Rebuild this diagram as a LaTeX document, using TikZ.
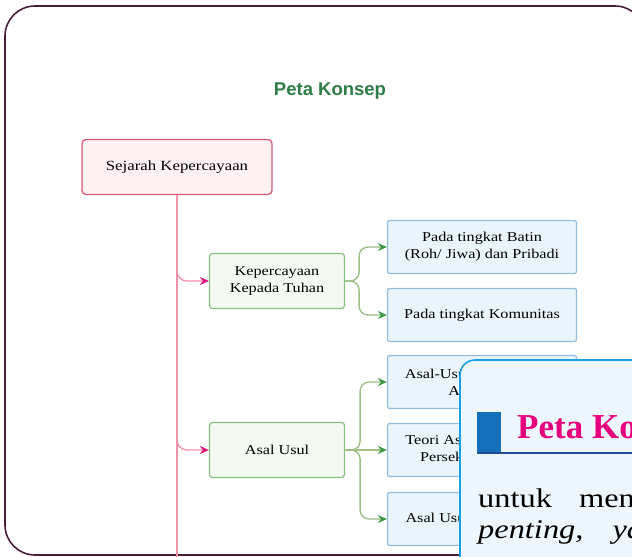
\documentclass[tikz,border=0pt]{standalone}
\usepackage{fontspec}
\setmainfont{Liberation Serif}
\newfontfamily\titlefont{Liberation Sans}
\newfontfamily\bodyfont[FakeStretch=1.2]{Liberation Serif}
\usetikzlibrary{arrows.meta}

\definecolor{framepurple}{HTML}{4A1E38}
\definecolor{titlegreen}{HTML}{2E7D46}
\definecolor{rootedge}{HTML}{DA5A76}
\definecolor{rootfill}{HTML}{FDF1F4}
\definecolor{trunkpink}{HTML}{F293AB}
\definecolor{tippink}{HTML}{E0177C}
\definecolor{midedge}{HTML}{86C081}
\definecolor{midfill}{HTML}{F4FAF2}
\definecolor{linegreen}{HTML}{9DBF84}
\definecolor{tipgreen}{HTML}{3E9A45}
\definecolor{leafedge}{HTML}{93BCDB}
\definecolor{leaffill}{HTML}{EAF4FB}
\definecolor{notefill}{HTML}{EEF6FD}
\definecolor{noteedge}{HTML}{1AA0E2}
\definecolor{noteblue}{HTML}{1470B8}
\definecolor{ruleblue}{HTML}{1F4B99}
\definecolor{notemagenta}{HTML}{E6007E}

\begin{document}
\begin{tikzpicture}[x = 1pt, y = -1pt,
	rootbox/.style = {draw = rootedge, fill = rootfill, line width = 1.3pt, rounded corners = 4pt, minimum width = 190pt, minimum height = 55pt, font = \bodyfont\fontsize{14}{17}\selectfont},
	midbox/.style = {draw = midedge, fill = midfill, line width = 1.2pt, rounded corners = 3pt, minimum width = 135pt, minimum height = 55pt, align = center, font = \bodyfont\fontsize{13.5}{17}\selectfont},
	leafbox/.style = {draw = leafedge, fill = leaffill, line width = 1.2pt, rounded corners = 2pt, minimum width = 189pt, minimum height = 53pt, align = center, font = \bodyfont\fontsize{13.5}{17}\selectfont},
	trunk/.style = {draw = trunkpink, line width = 1.8pt},
	pinkbranch/.style = {draw = trunkpink, line width = 1.4pt, rounded corners = 10pt, -{Stealth[length = 9pt, width = 8pt, color = tippink]}},
	greenbranch/.style = {draw = linegreen, line width = 1.4pt, rounded corners = 9pt, -{Stealth[length = 9pt, width = 8pt, color = tipgreen]}}]
					\useasboundingbox (0,0) rectangle (632,557);
					\clip (0,0) rectangle (632,557);
					% page frame
					\draw[framepurple, line width = 1.6pt, rounded corners = 30pt] (5,6) rectangle (645,555);
					\node[font = \titlefont\bfseries\fontsize{18.5}{21}\selectfont, text = titlegreen] (title) at (330,91) {Peta Konsep};
					% concept map
					\node[rootbox] (sejarah) at (177,167) {Sejarah Kepercayaan};
					\node[midbox] (tuhan) at (277,281) {Kepercayaan\\ Kepada Tuhan};
					\node[midbox] (asalusul) at (277,450) {Asal Usul};
					\node[leafbox] (batin) at (482,247) {Pada tingkat Batin\\ (Roh/ Jiwa) dan Pribadi};
					\node[leafbox] (komunitas) at (482,315) {Pada tingkat Komunitas};
					\node[leafbox] (asal1) at (482,382) {Asal-Usul Kepercayaan\\ Animisme};
					\node[leafbox] (asal2) at (482,450) {Teori Asal Usul Agama\\ Persekutuan Hidup};
					\node[leafbox] (asal3) at (482,519) {Asal Usul Kepercayaan};
					\coordinate (trunkend) at (177,575);
					\draw[trunk] (sejarah.south) -- (trunkend);
					\draw[pinkbranch] (sejarah.south |- tuhan.west) ++(0,-18) |- (tuhan.west);
					\draw[pinkbranch] (sejarah.south |- asalusul.west) ++(0,-18) |- (asalusul.west);
					\draw[greenbranch] (tuhan.east) -- ++(14,0) |- (batin.west);
					\draw[greenbranch] (tuhan.east) -- ++(14,0) |- (komunitas.west);
					\draw[greenbranch] (asalusul.east) -- ++(15,0) |- (asal1.west);
					\draw[greenbranch] (asalusul.east) -- (asal2.west);
					\draw[greenbranch] (asalusul.east) -- ++(15,0) |- (asal3.west);
					% note box on top
					\draw[draw = noteedge, fill = notefill, line width = 1.6pt, rounded corners = 15pt] (460,360) rectangle (720,640);
					\fill[noteblue] (477,412) rectangle (501,452);
					\draw[ruleblue, line width = 2pt] (477,453) -- (660,453);
					\node[anchor = base west, inner sep = 0pt, text = notemagenta, font = \bfseries\fontsize{35}{40}\selectfont] (notetitle) at (517,438) {Peta Konsep};
					\node[anchor = base west, inner sep = 0pt, font = \bodyfont\fontsize{27}{30}\selectfont] (line1) at (478,507) {untuk\hspace{19pt} menunjukkan};
					\node[anchor = base west, inner sep = 0pt, font = \bodyfont\itshape\fontsize{27}{30}\selectfont] (line2) at (478,538) {penting,\hspace{21pt} yang};
				\end{tikzpicture}
\end{document}
